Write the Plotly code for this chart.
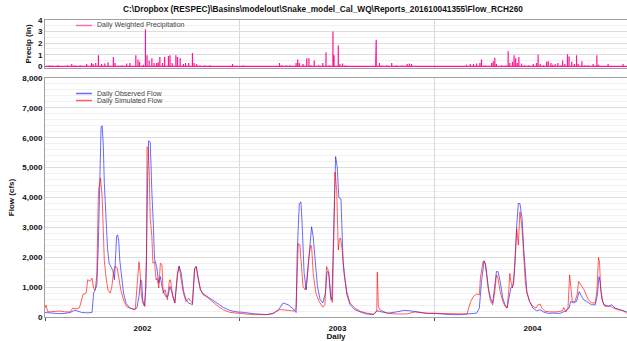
import pandas as pd
import plotly.graph_objects as go

# ---------------- data ----------------
# day numbers are days since 2002-01-01
obs_day = [0, 9, 19, 28, 37, 47, 56, 62, 69, 80, 88, 91, 94, 97, 100, 103, 105, 107, 109, 111,
           114, 117, 120, 124, 127, 130, 132, 134, 136, 138, 140, 144, 147, 152, 159, 168, 172, 176, 179, 181,
           183, 186, 189, 192, 194, 197, 198, 200, 203, 205, 209, 213, 216, 219, 223, 226, 230, 234, 238, 243,
           248, 251, 255, 259, 264, 269, 273, 276, 280, 283, 287, 291, 296, 303, 309, 315, 324, 334, 346, 359,
           371, 390, 415, 427, 437, 446, 455, 465, 470, 472, 476, 479, 481, 485, 489, 493, 499, 502, 506, 510,
           515, 520, 525, 528, 531, 535, 537, 541, 544, 547, 550, 554, 556, 558, 562, 565, 571, 580, 590, 602,
           615, 621, 630, 643, 658, 671, 683, 696, 714, 730, 739, 758, 777, 796, 808, 813, 817, 822, 825, 830,
           834, 838, 842, 845, 848, 852, 857, 861, 865, 869, 872, 877, 880, 883, 886, 889, 893, 896, 899, 902,
           907, 913, 920, 927, 933, 942, 951, 964, 973, 981, 984, 989, 995, 1000, 1003, 1008, 1014, 1023, 1030, 1034,
           1037, 1039, 1042, 1046, 1055, 1061, 1067, 1076, 1089]
obs_cfs = [150, 130, 120, 110, 120, 150, 230, 200, 150, 140, 150, 800, 950, 1050, 2500, 5400, 6370, 6400, 5800, 4500,
           3200, 2300, 1800, 1650, 1550, 1250, 2000, 2700, 2750, 2550, 1900, 1200, 800, 450, 300, 250, 300, 700, 1250, 1200,
           560, 380, 1000, 4500, 5900, 5850, 5100, 4200, 3000, 1950, 1690, 1130, 1350, 1020, 800, 690, 690, 1020, 800, 470,
           1410, 1710, 1470, 900, 580, 460, 440, 410, 1630, 1690, 1300, 910, 780, 690, 620, 540, 430, 320, 220, 170,
           155, 110, 80, 110, 245, 470, 410, 270, 150, 2130, 3800, 3850, 3240, 1470, 910, 1690, 3020, 2690, 1690, 1020,
           580, 470, 800, 1520, 1500, 690, 580, 3460, 5370, 5020, 4000, 3950, 3100, 1860, 1190, 745, 410, 245, 170, 100,
           80, 210, 170, 130, 170, 220, 210, 170, 120, 120, 100, 80, 80, 100, 130, 300, 1190, 1880, 1740, 970,
           630, 470, 970, 1520, 1520, 1190, 630, 410, 300, 740, 970, 1080, 1850, 3070, 3800, 3800, 3300, 2300, 1410, 850,
           520, 300, 210, 240, 170, 120, 130, 120, 190, 300, 520, 470, 520, 850, 740, 580, 520, 410, 410, 740,
           1350, 1190, 630, 410, 360, 410, 300, 240, 170]

sim_day = [0, 2, 5, 9, 19, 28, 37, 47, 52, 58, 64, 66, 71, 77, 80, 84, 88, 91, 94, 97,
           100, 104, 107, 109, 111, 114, 118, 122, 125, 128, 131, 135, 138, 142, 147, 153, 163, 169, 173, 176,
           178, 180, 183, 187, 190, 191, 193, 195, 197, 200, 202, 205, 208, 210, 213, 216, 219, 221, 225, 229,
           233, 235, 239, 243, 248, 251, 255, 259, 264, 269, 273, 276, 280, 283, 287, 291, 296, 303, 309, 315,
           324, 334, 346, 359, 371, 390, 415, 427, 440, 455, 466, 470, 472, 474, 477, 480, 483, 487, 490, 494,
           497, 499, 502, 507, 513, 520, 524, 527, 531, 535, 538, 541, 543, 546, 549, 551, 553, 556, 560, 565,
           571, 580, 590, 602, 615, 621, 622, 624, 627, 640, 658, 676, 693, 714, 732, 752, 771, 790, 793, 797,
           802, 808, 813, 815, 820, 824, 830, 834, 838, 842, 845, 848, 852, 857, 861, 865, 868, 870, 872, 875,
           878, 880, 883, 886, 889, 893, 896, 899, 902, 907, 913, 919, 923, 927, 930, 936, 945, 958, 969, 971,
           975, 979, 982, 984, 987, 992, 996, 999, 1003, 1006, 1009, 1013, 1017, 1023, 1030, 1033, 1036, 1038, 1040, 1044,
           1048, 1058, 1064, 1073, 1082, 1089]
sim_cfs = [300, 400, 180, 170, 190, 200, 170, 170, 300, 270, 300, 400, 750, 800, 1250, 1200, 1300, 950, 900, 1400,
           4200, 4650, 4000, 2800, 1900, 1350, 900, 800, 1000, 1450, 1700, 1650, 1350, 900, 570, 340, 270, 260, 1200, 1850,
           1500, 800, 470, 350, 2000, 5700, 5650, 4900, 3300, 2700, 1800, 1850, 1240, 1300, 970, 1800, 1750, 800, 910, 580,
           1240, 1240, 690, 470, 1470, 1690, 1240, 800, 520, 630, 520, 470, 1580, 1690, 1240, 910, 740, 670, 580, 490,
           355, 240, 155, 130, 110, 80, 80, 130, 250, 230, 200, 300, 1800, 2460, 2420, 1690, 1020, 910, 1240, 2000,
           2400, 2380, 1470, 800, 520, 330, 420, 1690, 1520, 580, 490, 3020, 4850, 4240, 2240, 2600, 2650, 2300, 1410, 850,
           470, 300, 190, 130, 100, 190, 1500, 360, 240, 130, 100, 100, 170, 130, 120, 100, 100, 100, 300, 520,
           690, 770, 740, 1300, 1860, 1800, 900, 520, 410, 850, 1410, 1300, 850, 520, 360, 300, 850, 1460, 1190, 970,
           1410, 2080, 2960, 2410, 3520, 2960, 2080, 1190, 800, 520, 360, 300, 410, 430, 300, 190, 170, 170, 210, 320,
           170, 300, 1410, 970, 520, 520, 740, 1190, 1080, 970, 910, 740, 580, 470, 470, 850, 1990, 1850, 970, 520,
           360, 360, 300, 240, 210, 130]

pcp_day = [2, 9, 14, 24, 30, 36, 42, 50, 56, 66, 78, 87, 90, 95, 100, 106, 112, 118, 128, 131,
           144, 153, 159, 170, 174, 177, 184, 188, 191, 195, 200, 204, 209, 212, 215, 220, 224, 231, 234, 238,
           245, 248, 253, 259, 263, 269, 276, 279, 284, 290, 299, 309, 321, 331, 351, 371, 396, 427, 439, 443,
           452, 459, 470, 473, 476, 483, 490, 494, 498, 504, 512, 520, 526, 532, 539, 541, 549, 552, 557, 562,
           571, 580, 593, 602, 619, 620, 626, 630, 640, 649, 658, 668, 678, 682, 686, 696, 714, 739, 758, 774,
           789, 796, 802, 808, 814, 817, 824, 836, 839, 842, 845, 855, 863, 867, 870, 875, 878, 881, 884, 887,
           892, 898, 905, 914, 920, 923, 927, 933, 939, 942, 947, 950, 955, 960, 966, 969, 973, 978, 981, 986,
           991, 995, 998, 1005, 1011, 1017, 1026, 1033, 1036, 1045, 1054, 1064, 1073, 1082, 1089]
pcp_in = [0.05, 0.1, 0.08, 0.1, 0.05, 0.05, 0.1, 0.2, 0.1, 0.1, 0.2, 0.3, 0.2, 0.3, 0.95, 0.2, 0.25, 0.35, 0.8, 0.3,
          0.1, 0.25, 0.3, 0.95, 0.6, 0.4, 0.15, 3.2, 0.95, 0.5, 0.7, 0.3, 0.3, 0.35, 0.8, 0.3, 0.8, 0.9, 0.95, 0.3,
          0.95, 0.8, 0.7, 0.2, 0.3, 0.3, 1.15, 0.3, 0.2, 0.1, 0.1, 0.1, 0.05, 0.05, 0.2, 0.1, 0.05, 0.05, 0.3, 0.1,
          0.1, 0.1, 0.3, 0.6, 0.3, 0.2, 0.7, 0.7, 0.1, 0.5, 0.1, 0.3, 1.2, 0.1, 3.0, 0.95, 1.8, 0.2, 0.25, 0.1,
          0.05, 0.05, 0.05, 0.05, 0.6, 2.3, 0.3, 0.1, 0.1, 0.3, 0.1, 0.1, 0.2, 0.25, 0.2, 0.05, 0.05, 0.05, 0.05, 0.05,
          0.15, 0.2, 0.2, 0.25, 0.3, 0.6, 0.1, 0.3, 0.45, 0.75, 0.2, 0.1, 0.1, 1.3, 0.3, 0.4, 0.95, 0.7, 0.3, 0.8,
          0.25, 0.1, 0.1, 0.2, 0.3, 1.0, 0.2, 0.1, 0.4, 0.45, 0.3, 0.15, 0.2, 0.3, 0.1, 0.5, 0.2, 1.05, 0.85, 0.4,
          0.2, 0.95, 0.2, 0.45, 0.1, 0.1, 0.2, 0.95, 0.15, 0.05, 0.2, 0.05, 0.05, 0.2, 0.05]

title_text = r"C:\Dropbox (RESPEC)\Basins\modelout\Snake_model_Cal_WQ\Reports_201610041355\Flow_RCH260"
start = pd.Timestamp("2002-01-01")


def to_dates(days):
    return start + pd.to_timedelta(days, unit="D")


# precipitation drawn as a daily line: each rainy day rises from 0 and falls back to 0
spike_x, spike_y = [], []
for d, v in zip(to_dates(pcp_day), pcp_in):
    spike_x += [d, d, d]
    spike_y += [0, v, 0]

FONT = "Arial, Liberation Sans, sans-serif"
BLUE = "rgba(0,0,255,0.58)"
RED = "rgba(255,0,0,0.62)"
PINK = "#FF1493"

fig = go.Figure()
fig.add_trace(go.Scatter(x=spike_x, y=spike_y, name="Daily Weighted Precipitation", mode="lines",
                         line=dict(color=PINK, width=1.2), xaxis="x2", yaxis="y2", showlegend=False))
fig.add_trace(go.Scatter(x=to_dates(obs_day), y=obs_cfs, name="Daily Observed Flow", mode="lines",
                         line=dict(color=BLUE, width=1), showlegend=False))
fig.add_trace(go.Scatter(x=to_dates(sim_day), y=sim_cfs, name="Daily Simulated Flow", mode="lines",
                         line=dict(color=RED, width=1), showlegend=False))

W, H = 627, 341
L, R, T, B = 45, 0, 20, 24
PW, PH = W - L - R, H - T - B


def px(xp):
    return (xp - L) / PW


def py(yp):
    return (H - B - yp) / PH


xr = ["2002-01-01", "2004-12-25 10:00"]
common_x = dict(type="date", range=xr, dtick="M12", tick0="2002-01-01", showgrid=True,
                gridcolor="#D9D9D9", gridwidth=1, showline=True, mirror=True, linecolor="#A0A0A0",
                linewidth=1, zeroline=False)

fig.update_layout(
    width=W, height=H, margin=dict(l=L, r=R, t=T, b=B, autoexpand=False),
    paper_bgcolor="white", plot_bgcolor="white",
    font=dict(family=FONT, color="#222"),
    title=dict(text=title_text, x=323 / W, xanchor="center", xref="container",
               y=1 - 9.5 / H, yanchor="middle", font=dict(family=FONT, size=8.3, weight="bold", color="#111")),
    xaxis=dict(**common_x, anchor="y", ticks="outside", ticklen=3, tickcolor="#555",
               ticklabelmode="period", tickformat="%Y",
               tickfont=dict(family=FONT, size=8, weight="bold", color="#111"),
               title=dict(text="Daily", standoff=2, font=dict(family=FONT, size=8, weight="bold", color="#111"))),
    xaxis2=dict(**common_x, anchor="y2", matches="x", showticklabels=False, ticks=""),
    yaxis=dict(domain=[0, py(78)], range=[0, 8000], dtick=1000, tickformat=",d",
               showgrid=True, gridcolor="#DEDEDE", zeroline=False, showline=True, mirror=True,
               linecolor="#A0A0A0", linewidth=1, ticks="",
               minor=dict(dtick=200, showgrid=True, gridcolor="#F0F0F0"),
               tickfont=dict(family=FONT, size=8, weight="bold", color="#111"),
               title=dict(text="Flow (cfs)", standoff=6, font=dict(family=FONT, size=8, weight="bold", color="#111"))),
    yaxis2=dict(domain=[py(68), 1], range=[-0.14, 4], dtick=1, showgrid=True, gridcolor="#DEDEDE",
                zeroline=True, zerolinecolor=PINK, zerolinewidth=1, showline=True, mirror=True,
                linecolor="#A0A0A0", linewidth=1, ticks="",
                minor=dict(dtick=0.5, showgrid=True, gridcolor="#F0F0F0"),
                tickfont=dict(family=FONT, size=8, weight="bold", color="#111"),
                title=dict(text="Precip (in)", standoff=5, font=dict(family=FONT, size=8, weight="bold", color="#111"))),
)

# legends (compact, drawn as line samples + text)
legend_items = [("Daily Weighted Precipitation", "#FF69B4", 25.5),
                ("Daily Observed Flow", BLUE, 93.5),
                ("Daily Simulated Flow", RED, 100.5)]
for name, col, ypix in legend_items:
    fig.add_shape(type="line", xref="paper", yref="paper", x0=px(76), x1=px(92), y0=py(ypix), y1=py(ypix),
                  line=dict(color=col, width=1.5))
    fig.add_annotation(text=name, xref="paper", yref="paper", x=px(95), y=py(ypix), xanchor="left",
                       yanchor="middle", showarrow=False, font=dict(family=FONT, size=7, color="#444"))

fig.write_html("out.html")
